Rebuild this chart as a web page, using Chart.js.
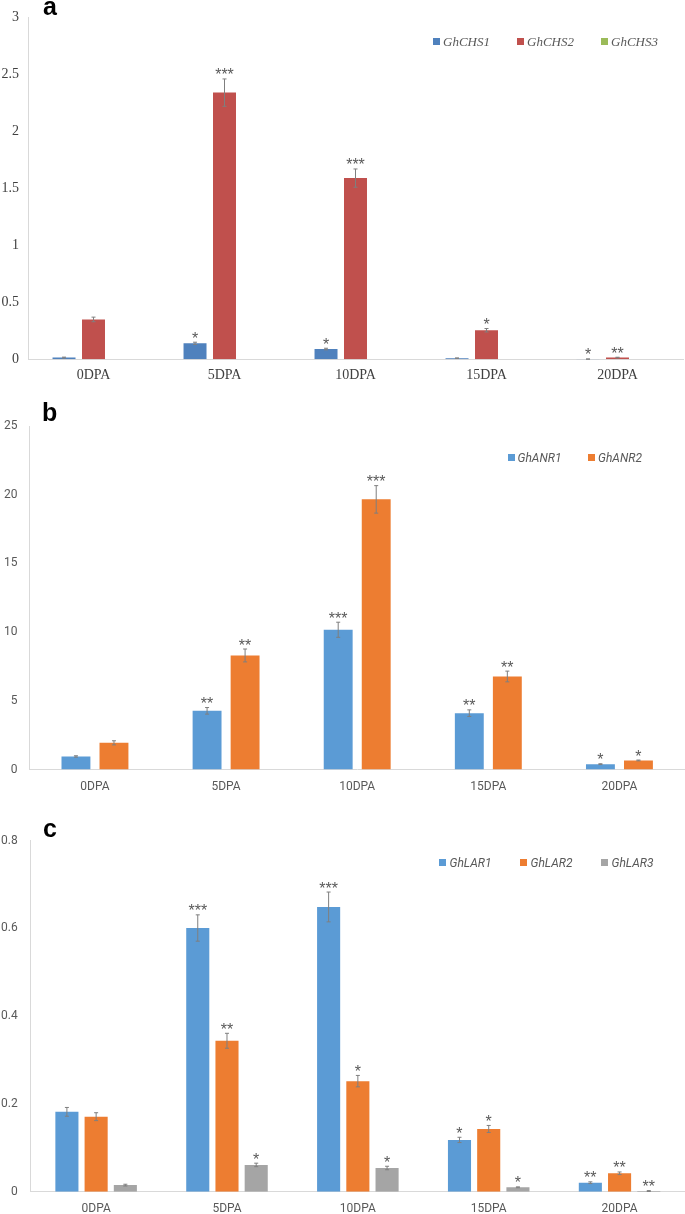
<!DOCTYPE html>
<html>
<head>
<meta charset="utf-8">
<script src="https://cdn.jsdelivr.net/npm/chart.js@4.4.1/dist/chart.umd.min.js"></script>
<style>
  html, body { margin: 0; padding: 0; background: #fff; }
  #wrap { position: relative; width: 685px; height: 1214px; overflow: hidden; background: #fff; }
  canvas { position: absolute; left: 0; }
  .plabel { position: absolute; font-family: "Liberation Sans", Arial, sans-serif; font-weight: bold; font-size: 25px; color: #000; line-height: 1; }
  .leg { position: absolute; height: 16px; }
  .leg .sq { position: absolute; top: 4px; left: 0; width: 7px; height: 7px; }
  .leg .tx { position: absolute; top: 0; white-space: nowrap; font-style: italic; line-height: 16px; }
</style>
</head>
<body>
<div id="wrap">
  <canvas id="cA" width="685" height="390" style="top:0px"></canvas>
  <canvas id="cB" width="685" height="400" style="top:400px"></canvas>
  <canvas id="cC" width="685" height="414" style="top:800px"></canvas>
  <div class="plabel" style="left:43px; top:-6px;">a</div>
  <div class="plabel" style="left:42px; top:400px;">b</div>
  <div class="plabel" style="left:43px; top:816px;">c</div>
</div>
<script>
// ---------- DATA ----------
const categories = ["0DPA", "5DPA", "10DPA", "15DPA", "20DPA"];

// Panel a
const namesA = ["GhCHS1", "GhCHS2", "GhCHS3"];
const chs1 = [0.015, 0.14, 0.09, 0.01, 0.002];
const chs2 = [0.35, 2.34, 1.59, 0.255, 0.015];
const chs3 = [0, 0, 0, 0, 0];
const chs1Err = [0.004, 0.01, 0.007, 0.002, 0.001];
const chs2Err = [0.02, 0.12, 0.08, 0.015, 0.003];
const chs3Err = [0, 0, 0, 0, 0];
const chs1Stars = ["", "*", "*", "", "*"];
const chs2Stars = ["", "***", "***", "*", "**"];
const chs3Stars = ["", "", "", "", ""];
const yTicksA = [0, 0.5, 1, 1.5, 2, 2.5, 3];

// Panel b
const namesB = ["GhANR1", "GhANR2"];
const anr1 = [0.95, 4.27, 10.17, 4.1, 0.39];
const anr2 = [1.94, 8.3, 19.66, 6.77, 0.66];
const anr1Err = [0.05, 0.24, 0.55, 0.24, 0.03];
const anr2Err = [0.15, 0.47, 1.0, 0.39, 0.03];
const anr1Stars = ["", "**", "***", "**", "*"];
const anr2Stars = ["", "**", "***", "**", "*"];
const yTicksB = [0, 5, 10, 15, 20, 25];

// Panel c
const namesC = ["GhLAR1", "GhLAR2", "GhLAR3"];
const lar1 = [0.182, 0.601, 0.649, 0.118, 0.0205];
const lar2 = [0.171, 0.344, 0.252, 0.143, 0.042];
const lar3 = [0.015, 0.061, 0.054, 0.01, 0.0015];
const lar1Err = [0.01, 0.03, 0.034, 0.006, 0.002];
const lar2Err = [0.009, 0.017, 0.013, 0.008, 0.003];
const lar3Err = [0.002, 0.004, 0.004, 0.001, 0.001];
const lar1Stars = ["", "***", "***", "*", "**"];
const lar2Stars = ["", "**", "*", "*", "**"];
const lar3Stars = ["", "*", "*", "*", "**"];
const yTicksC = [0, 0.2, 0.4, 0.6, 0.8];

// ---------- STYLES ----------
const colorsA = ["#4F81BD", "#C0504D", "#9BBB59"];
const colorsBC = ["#5B9BD5", "#ED7D31", "#A5A5A5"];
const serif = "'Liberation Serif', 'Times New Roman', serif";
const sans = "Roboto, 'Liberation Sans', sans-serif";

const errPlugin = {
  id: 'errbars',
  afterDatasetsDraw(chart) {
    const ctx = chart.ctx;
    const ys = chart.scales.y;
    chart.data.datasets.forEach((ds, i) => {
      const meta = chart.getDatasetMeta(i);
      meta.data.forEach((el, j) => {
        const v = ds.data[j];
        const e = ds.errs[j];
        const x = el.x;
        const yT = ys.getPixelForValue(v + e);
        const yB = ys.getPixelForValue(Math.max(0, v - e));
        if (e > 0) {
          ctx.save();
          ctx.strokeStyle = "#7F7F7F";
          ctx.lineWidth = 1;
          ctx.beginPath();
          ctx.moveTo(x, yT); ctx.lineTo(x, yB);
          ctx.moveTo(x - 2, yT); ctx.lineTo(x + 2, yT);
          ctx.moveTo(x - 2, yB); ctx.lineTo(x + 2, yB);
          ctx.stroke();
          ctx.restore();
        }
        const s = ds.stars[j];
        if (s) {
          ctx.save();
          ctx.fillStyle = "#595959";
          ctx.font = "16px 'Liberation Sans', Arial, sans-serif";
          ctx.textAlign = "center";
          ctx.textBaseline = "alphabetic";
          ctx.fillText(s, x, yT + 1.5);
          ctx.restore();
        }
      });
    });
  }
};

function makeChart(id, cfg) {
  const ds = cfg.series.map((vals, i) => ({
    label: cfg.names[i],
    data: vals,
    errs: cfg.errs[i],
    stars: cfg.stars[i],
    backgroundColor: cfg.colors[i],
    borderWidth: 0,
    categoryPercentage: cfg.catPct,
    barPercentage: cfg.barPct
  }));
  return new Chart(document.getElementById(id), {
    type: 'bar',
    data: { labels: categories, datasets: ds },
    options: {
      responsive: false,
      animation: false,
      devicePixelRatio: 1,
      layout: { padding: { top: cfg.padTop, right: cfg.padRight, left: 0, bottom: 0 } },
      plugins: { legend: { display: false }, tooltip: { enabled: false } },
      scales: {
        x: {
          grid: { display: false, drawTicks: false },
          border: { display: true, color: "#D9D9D9", width: 1 },
          ticks: { color: cfg.tickColor, font: { family: cfg.font, size: cfg.xFont }, padding: cfg.xPad, maxRotation: 0 },
          afterFit(s) { s.height = cfg.xHeight; }
        },
        y: {
          min: cfg.yTicks[0],
          max: cfg.yTicks[cfg.yTicks.length - 1],
          grid: { display: false, drawTicks: false },
          border: { display: true, color: "#D9D9D9", width: 1 },
          afterBuildTicks(s) { s.ticks = cfg.yTicks.map(v => ({ value: v })); },
          ticks: {
            color: cfg.tickColor,
            font: { family: cfg.font, size: cfg.yFont },
            padding: cfg.yPad,
            callback: (v) => String(v)
          },
          afterFit(s) { s.width = cfg.yWidth; }
        }
      }
    },
    plugins: [errPlugin]
  });
}

function makeLegend(cfg) {
  const wrap = document.getElementById('wrap');
  cfg.names.forEach((n, i) => {
    const d = document.createElement('div');
    d.className = 'leg';
    d.style.left = (cfg.legX + i * cfg.legStep) + 'px';
    d.style.top = (cfg.legY - 8) + 'px';
    const sq = document.createElement('div');
    sq.className = 'sq';
    sq.style.background = cfg.colors[i];
    const tx = document.createElement('span');
    tx.className = 'tx';
    tx.style.left = cfg.legTextOff + 'px';
    tx.style.fontFamily = cfg.font;
    tx.style.fontSize = cfg.legFont + 'px';
    tx.style.color = cfg.legColor;
    tx.textContent = n;
    d.appendChild(sq); d.appendChild(tx);
    wrap.appendChild(d);
  });
}

const cfgA = {
  names: namesA, series: [chs1, chs2, chs3], errs: [chs1Err, chs2Err, chs3Err],
  stars: [chs1Stars, chs2Stars, chs3Stars], colors: colorsA, yTicks: yTicksA,
  catPct: 0.675, barPct: 0.78, padTop: 13, padRight: 2, xHeight: 30.7, yWidth: 28,
  font: serif, tickColor: "#404040", xFont: 14, yFont: 14, xPad: 8, yPad: 9,
  legX: 433, legStep: 84, legY: 42, legTextOff: 10, legFont: 13, legColor: "#595959"
};
const cfgB = {
  names: namesB, series: [anr1, anr2], errs: [anr1Err, anr2Err],
  stars: [anr1Stars, anr2Stars], colors: colorsBC, yTicks: yTicksB,
  catPct: 0.58, barPct: 0.76, padTop: 26, padRight: 0, xHeight: 30.5, yWidth: 29.4,
  font: sans, tickColor: "#595959", xFont: 12, yFont: 12, xPad: 10, yPad: 12,
  legX: 507.5, legStep: 80.5, legY: 458, legTextOff: 10, legFont: 12, legColor: "#595959"
};
const cfgC = {
  names: namesC, series: [lar1, lar2, lar3], errs: [lar1Err, lar2Err, lar3Err],
  stars: [lar1Stars, lar2Stars, lar3Stars], colors: colorsBC, yTicks: yTicksC,
  catPct: 0.67, barPct: 0.79, padTop: 40.7, padRight: 0, xHeight: 22.3, yWidth: 30.7,
  font: sans, tickColor: "#595959", xFont: 12, yFont: 12, xPad: 10, yPad: 13,
  legX: 438.5, legStep: 81, legY: 862.5, legTextOff: 11, legFont: 12, legColor: "#595959"
};

makeChart('cA', cfgA); makeLegend(cfgA);
makeChart('cB', cfgB); makeLegend(cfgB);
makeChart('cC', cfgC); makeLegend(cfgC);
</script>
</body>
</html>
